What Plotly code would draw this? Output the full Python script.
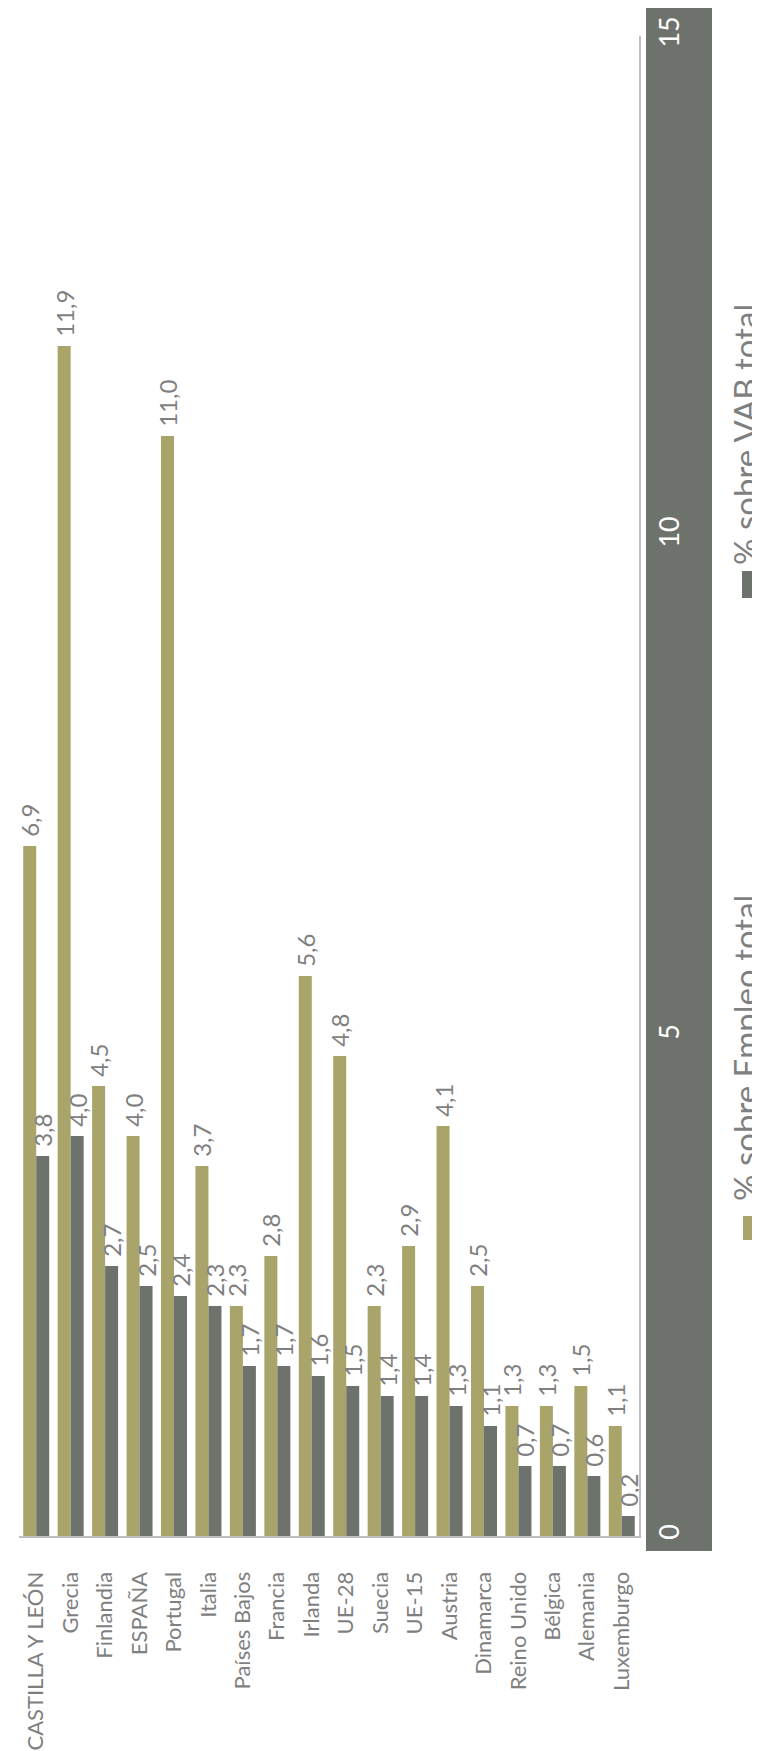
import plotly.graph_objects as go

categories = ["CASTILLA Y LEÓN", "Grecia", "Finlandia", "ESPAÑA", "Portugal", "Italia",
              "Países Bajos", "Francia", "Irlanda", "UE-28", "Suecia", "UE-15", "Austria",
              "Dinamarca", "Reino Unido", "Bélgica", "Alemania", "Luxemburgo"]
empleo = [6.9, 11.9, 4.5, 4.0, 11.0, 3.7, 2.3, 2.8, 5.6, 4.8, 2.3, 2.9, 4.1, 2.5, 1.3, 1.3, 1.5, 1.1]
vab = [3.8, 4.0, 2.7, 2.5, 2.4, 2.3, 1.7, 1.7, 1.6, 1.5, 1.4, 1.4, 1.3, 1.1, 0.7, 0.7, 0.6, 0.2]
series_names = ["% sobre Empleo total", "% sobre VAB total"]
y_ticks = [0, 5, 10, 15]

OLIVE = "#A8A46A"
GREY = "#6E726D"
TXT = "#7F7F7F"
FONT = "Lato"

def fmt(v):
    return " " + f"{v:.1f}".replace(".", ",")

fig = go.Figure()
for vals, name, col in [(empleo, series_names[0], OLIVE), (vab, series_names[1], GREY)]:
    fig.add_trace(go.Bar(
        x=categories, y=vals, name=name, marker=dict(color=col, line=dict(width=0)),
        text=[fmt(v) for v in vals], textposition="outside", textangle=-90,
        textfont=dict(family=FONT, size=24, color=TXT),
        outsidetextfont=dict(family=FONT, size=24, color=TXT), constraintext="none",
        cliponaxis=False, showlegend=False,
    ))

W, H = 760, 1751
ml, mr, mt, mb = 11, 129, 28, 223

fig.update_layout(
    width=W, height=H, margin=dict(l=ml, r=mr, t=mt, b=mb),
    paper_bgcolor="white", plot_bgcolor="white",
    barmode="group", bargap=0.245, bargroupgap=0,
    font=dict(family=FONT, color=TXT),
    xaxis=dict(type="category", tickangle=-90, tickfont=dict(size=22, color=TXT),
               showline=True, linecolor="#BFBFBF", linewidth=2, ticks="",
               showgrid=False, range=[-0.5, len(categories) - 0.5], ticklabelstandoff=25,
               automargin=False),
    yaxis=dict(side="right", range=[0, 15], tickvals=y_ticks, ticktext=[str(t) for t in y_ticks],
               tickangle=-90, tickfont=dict(size=27, color="white"), showgrid=False,
               zeroline=False, showline=True, linecolor="#BFBFBF", linewidth=2, ticks="",
               ticklabelstandoff=6, automargin=False),
)

pw = W - ml - mr
ph = H - mt - mb
def px(x):
    return (x - ml) / pw
def py(y):
    return (H - mb - y) / ph

shapes = [
    dict(type="rect", xref="paper", yref="paper", x0=px(638), x1=px(704), y0=py(1543), y1=py(0),
         fillcolor=GREY, line=dict(width=0), layer="below"),
    dict(type="rect", xref="paper", yref="paper", x0=px(735), x1=px(759), y0=py(1232), y1=py(1208),
         fillcolor=OLIVE, line=dict(width=0)),
    dict(type="rect", xref="paper", yref="paper", x0=px(734), x1=px(760), y0=py(590), y1=py(563),
         fillcolor=GREY, line=dict(width=0)),
]
annotations = [
    dict(text=series_names[0], xref="paper", yref="paper", x=px(737), y=py(1040),
         xanchor="center", yanchor="middle", textangle=-90, showarrow=False,
         font=dict(family=FONT, size=33, color=TXT)),
    dict(text=series_names[1], xref="paper", yref="paper", x=px(737), y=py(427),
         xanchor="center", yanchor="middle", textangle=-90, showarrow=False,
         font=dict(family=FONT, size=33, color=TXT)),
]
fig.update_layout(shapes=shapes, annotations=annotations)
fig.write_html("out.html")
